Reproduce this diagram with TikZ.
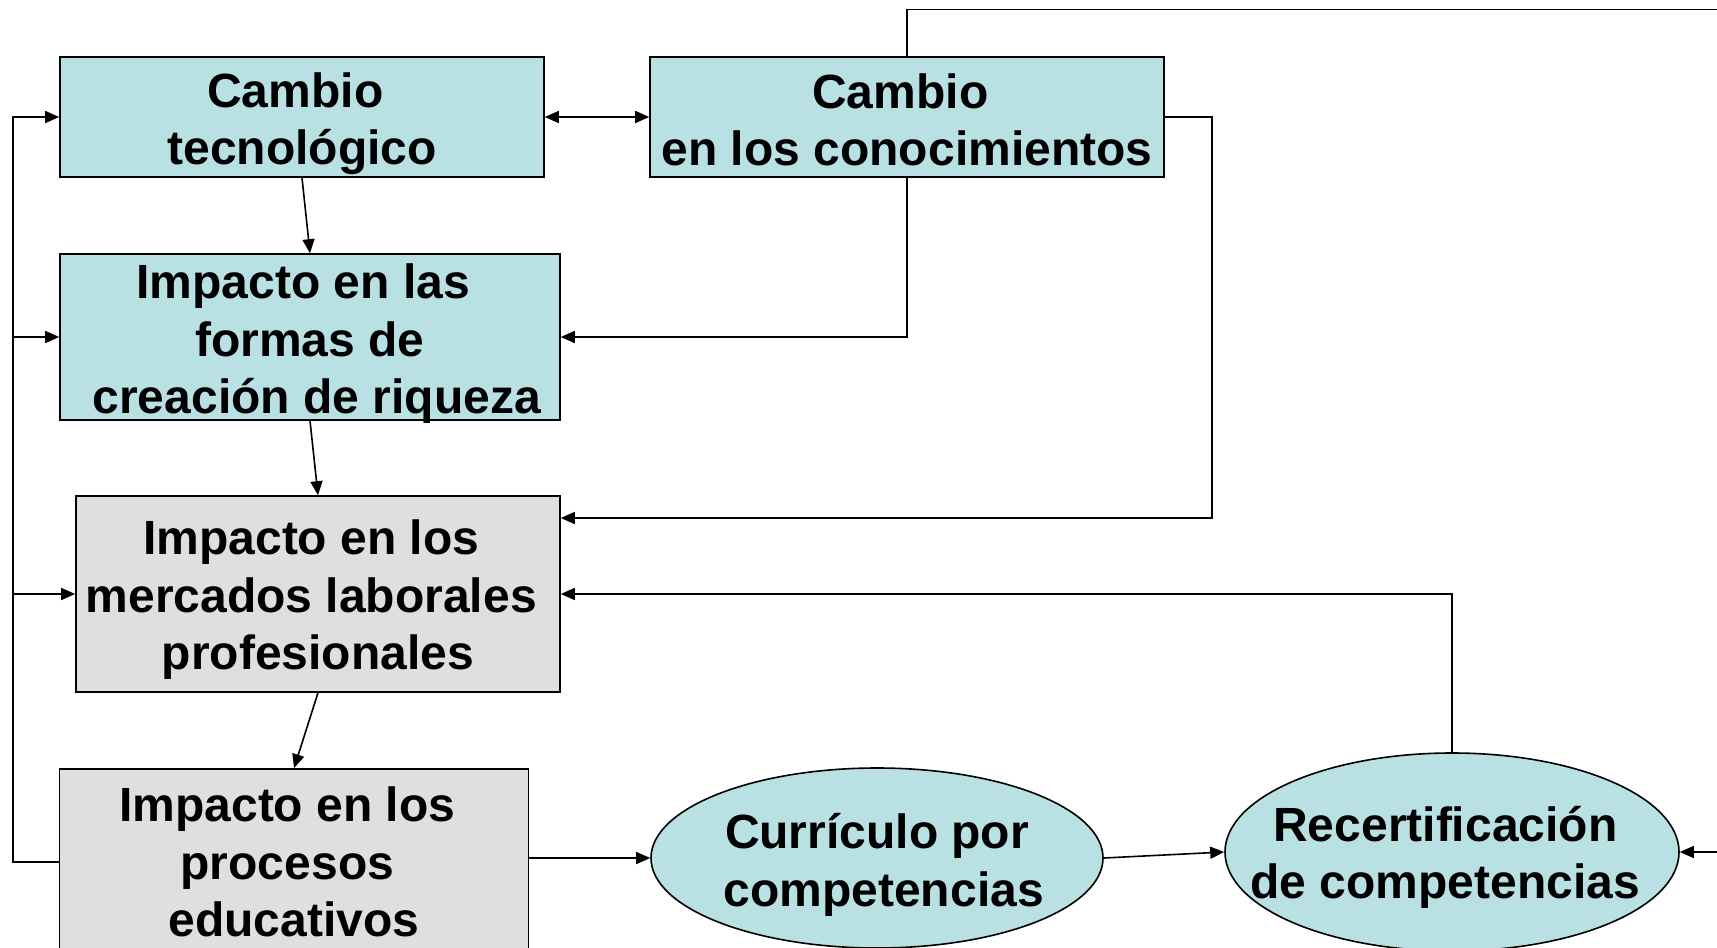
\documentclass[tikz,border=0pt]{standalone}
\usepackage{fontspec}
\setmainfont{Liberation Sans}
\usetikzlibrary{arrows.meta,shapes.geometric}

\definecolor{celeste}{RGB}{185,224,227}
\definecolor{grisclaro}{RGB}{223,223,223}
\newcommand{\esp}{\hspace*{0.278em}\mbox{}}

\begin{document}
\begin{tikzpicture}[x=0.5pt,y=-0.5pt,
    texto/.style={align=center, font=\bfseries\fontsize{24}{28.75}\selectfont},
    caja/.style={draw, line width=0.8pt, fill=celeste, inner sep=0pt},
    cajagris/.style={caja, fill=grisclaro},
    elipse/.style={caja, ellipse},
    linea/.style={line width=0.8pt},
    flecha/.style={linea, -{Triangle[length=7pt,width=6pt]}},
    doble/.style={linea, {Triangle[length=7pt,width=6pt]}-{Triangle[length=7pt,width=6pt]}}]
  \clip (0,0) rectangle (1717,947);

  % cajas
  \node[caja, minimum width=242pt, minimum height=60pt,
        label={[texto, yshift=-3.3pt]center:Cambio\esp\\tecnológico}] (tec) at (302,117) {};
  \node[caja, minimum width=257pt, minimum height=60pt,
        label={[texto, yshift=-1.5pt]center:Cambio\esp\\en los conocimientos}] (con) at (907,117) {};
  \node[caja, minimum width=250pt, minimum height=83pt,
        label={[texto, yshift=-3.5pt]center:Impacto en las\esp\\formas de\\\esp creación de riqueza}] (riq) at (310,337) {};
  \node[cajagris, minimum width=242pt, minimum height=98pt,
        label={[texto, yshift=-3pt]center:Impacto en los\esp\\mercados laborales\esp\\profesionales}] (mer) at (318,594) {};
  \node[cajagris, minimum width=234.5pt, minimum height=93pt,
        label={[texto]center:Impacto en los\esp\\procesos\esp\\educativos}] (edu) at (294,862) {};

  % elipses
  \node[elipse, minimum width=226pt, minimum height=90pt,
        label={[texto, yshift=-3.5pt]center:Currículo por\\\esp competencias}] (cur) at (877,858) {};
  \node[elipse, minimum width=227pt, minimum height=99pt,
        label={[texto, yshift=-2.7pt]center:Recertificación\esp\\de competencias\esp}] (rec) at (1452,852) {};

  % puntos libres
  \coordinate (izq) at (13,0);
  \coordinate (codo) at (1212,518);
  \coordinate (arriba) at (1717,9.5);
  \coordinate (der) at (1717,852);

  % conectores
  \draw[doble] (tec) -- (con);
  \draw[flecha] (tec.south) -- (riq.north);
  \draw[flecha] (riq.south) -- (mer.north);
  \draw[flecha] (mer.south) -- (edu.north);
  \draw[flecha] (con.south) |- (riq.east);
  \draw[flecha] (con.east) -| (codo) -- (codo -| mer.east);
  \draw[flecha] (rec.north) |- (mer.east);
  \draw[linea] (con.north) |- (arriba);

  % lazo izquierdo
  \draw[flecha] (edu.west) -- (edu.west -| izq) |- (tec.west);
  \draw[flecha] (izq |- riq.west) -- (riq.west);
  \draw[flecha] (izq |- mer.west) -- (mer.west);

  \draw[flecha] (cur.west -| edu.east) -- (cur.west);
  \draw[flecha] (cur.east) -- (rec.west);
  \draw[flecha] (der) -- (rec.east);
\end{tikzpicture}
\end{document}
